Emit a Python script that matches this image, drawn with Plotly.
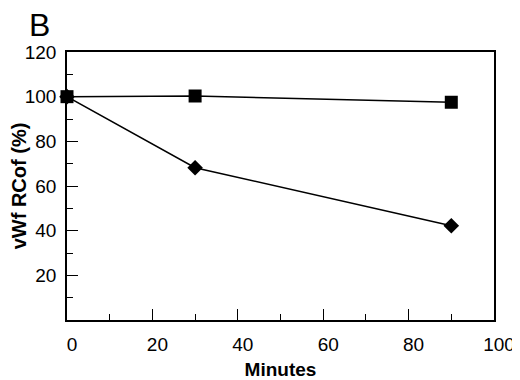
import plotly.graph_objects as go

minutes = [0, 30, 90]
square_vals = [100, 100.3, 97.5]
diamond_vals = [100, 68.2, 42.2]

x_ticks = [0, 20, 40, 60, 80, 100]
y_ticks = [20, 40, 60, 80, 100, 120]

fig = go.Figure()
fig.add_trace(go.Scatter(x=minutes, y=diamond_vals, mode="lines+markers",
                         line=dict(color="black", width=1.5),
                         marker=dict(symbol="diamond", size=12, color="black"),
                         cliponaxis=False, showlegend=False))
fig.add_trace(go.Scatter(x=minutes, y=square_vals, mode="lines+markers",
                         line=dict(color="black", width=1.5),
                         marker=dict(symbol="square", size=13, color="black"),
                         cliponaxis=False, showlegend=False))

axis_common = dict(showline=True, linecolor="black", linewidth=1.5, mirror=True,
                   ticks="inside", ticklen=11, tickwidth=1.3, tickcolor="black",
                   showgrid=False, zeroline=False, automargin=False,
                   tickfont=dict(family="Liberation Sans, Arial", size=19, color="black"))

fig.update_xaxes(range=[0, 100], tickvals=x_ticks, ticktext=[str(v) for v in x_ticks],
                 minor=dict(dtick=10, ticks="inside", ticklen=6, tickcolor="black", tickwidth=1.3),
                 ticklabelstandoff=6, ticklabelshift=5,
                 title=dict(text="<b>Minutes</b>", font=dict(family="Liberation Sans, Arial", size=19, color="black"), standoff=10),
                 **axis_common)
fig.update_yaxes(range=[0, 120], tickvals=y_ticks, ticktext=[str(v) for v in y_ticks],
                 minor=dict(dtick=10, ticks="inside", ticklen=6, tickcolor="black", tickwidth=1.3),
                 ticklabelstandoff=5,
                 title=dict(text="<b>vWf RCof (%)</b>", font=dict(family="Liberation Sans, Arial", size=20, color="black"), standoff=6),
                 **axis_common)

fig.add_annotation(text="B", xref="paper", yref="paper", x=-0.092, y=1.0, yshift=46,
                   xanchor="left", yanchor="top", showarrow=False, borderpad=0,
                   font=dict(family="Liberation Sans, Arial", size=32, color="black"))

fig.update_layout(width=512, height=372, paper_bgcolor="white", plot_bgcolor="white",
                  margin=dict(l=59, r=26, t=44, b=60))

fig.write_html("out.html")
